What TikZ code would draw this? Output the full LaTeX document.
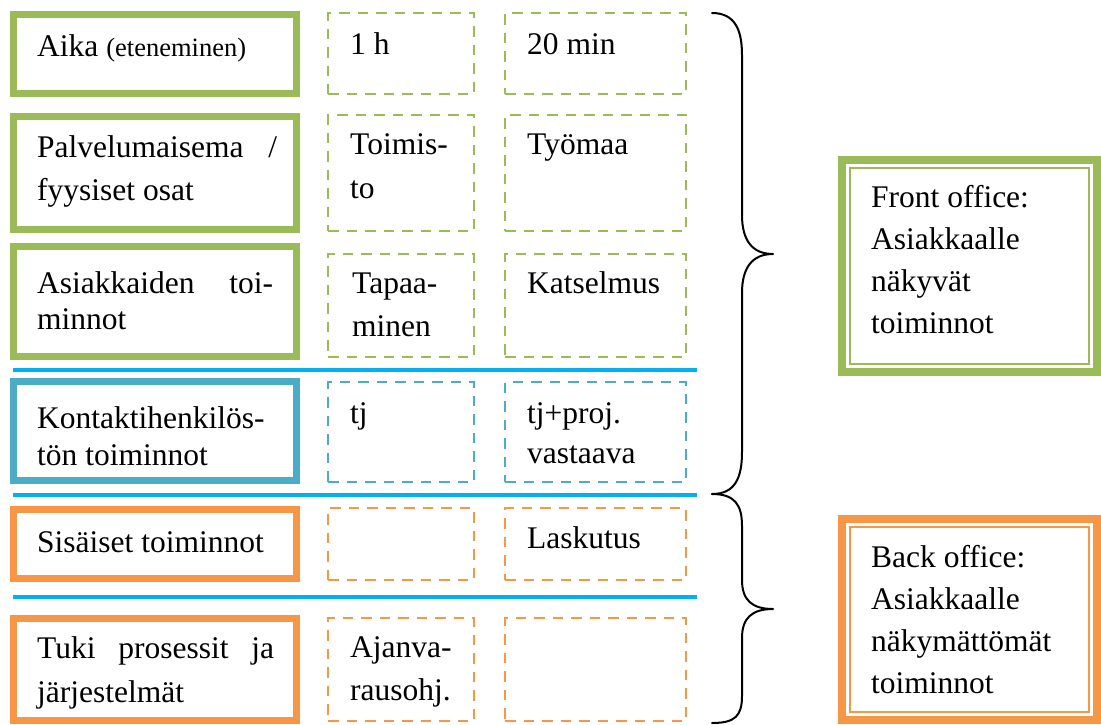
\documentclass[tikz,border=0pt]{standalone}
\usepackage{fontspec}
\setmainfont{Liberation Serif}
\definecolor{leafgreen}{HTML}{9BBB59}
\definecolor{tealblue}{HTML}{4BACC6}
\definecolor{sunorange}{HTML}{F79646}
\definecolor{ruleblue}{HTML}{00B0F0}
\newcommand{\bodyfont}{\fontsize{31.5pt}{42pt}\selectfont}
\newcommand{\smallerfont}{\fontsize{26.5pt}{34pt}\selectfont}
% two stacked lines with a given baseline distance; baseline = first line
\newcommand{\twoln}[3]{\vtop{\baselineskip=#1pt\hbox{#2}\hbox{#3}}}
\newcommand{\fourln}[4]{\vtop{\baselineskip=42pt\hbox{#1}\hbox{#2}\hbox{#3}\hbox{#4}}}

\begin{document}
\begin{tikzpicture}[x=1pt,y=-1pt,
  rowhead/.style={draw=#1, line width=7pt, minimum width=283pt, inner sep=0pt, outer sep=0pt},
  cell/.style={draw=#1, line width=2.5pt, dash pattern=on 10.5pt off 8pt, inner sep=0pt},
  txt/.style={anchor=base west, inner sep=0pt, font=\bodyfont},
  sep/.style={draw=ruleblue, line width=3.5pt},
  brace/.style={line width=2pt, line cap=round, line join=round},
  sidebox/.style={draw=#1, line width=8pt, minimum width=255pt, inner sep=0pt, outer sep=0pt},
  sideinner/.style={draw=#1, line width=2.5pt}
]
\useasboundingbox (0,0) rectangle (1101,724);

% row headers
\node[rowhead=leafgreen, minimum height=79pt]  (h1) at (155,54)    {};
\node[rowhead=leafgreen, minimum height=113pt] (h2) at (155,173)   {};
\node[rowhead=leafgreen, minimum height=110pt] (h3) at (155,301.5) {};
\node[rowhead=tealblue,  minimum height=99pt]  (h4) at (155,431)   {};
\node[rowhead=sunorange, minimum height=69pt]  (h5) at (155,544)   {};
\node[rowhead=sunorange, minimum height=102pt] (h6) at (155,669.5) {};

% dashed cells, first column
\node[cell=leafgreen, minimum width=146pt, minimum height=81pt]  (a1) at (401,53.5)  {};
\node[cell=leafgreen, minimum width=146pt, minimum height=116pt] (a2) at (401,173)   {};
\node[cell=leafgreen, minimum width=146pt, minimum height=103pt] (a3) at (401,305.5) {};
\node[cell=tealblue,  minimum width=146pt, minimum height=100pt] (a4) at (401,432)   {};
\node[cell=sunorange, minimum width=146pt, minimum height=72pt]  (a5) at (401,544)   {};
\node[cell=sunorange, minimum width=146pt, minimum height=103pt] (a6) at (401,669.5) {};

% dashed cells, second column
\node[cell=leafgreen, minimum width=181pt, minimum height=81pt]  (b1) at (595.5,53.5)  {};
\node[cell=leafgreen, minimum width=181pt, minimum height=116pt] (b2) at (595.5,173)   {};
\node[cell=leafgreen, minimum width=181pt, minimum height=103pt] (b3) at (595.5,305.5) {};
\node[cell=tealblue,  minimum width=181pt, minimum height=100pt] (b4) at (595.5,432)   {};
\node[cell=sunorange, minimum width=181pt, minimum height=72pt]  (b5) at (595.5,544)   {};
\node[cell=sunorange, minimum width=181pt, minimum height=103pt] (b6) at (595.5,669.5) {};

% separators
\draw[sep] (13,370) -- (697,370);
\draw[sep] (13,495) -- (697,495);
\draw[sep] (13,597) -- (697,597);

% header texts
\node[txt] (th1) at (37,56)  {Aika {\smallerfont (eteneminen)}};
\node[txt] (th2) at (37,157) {\twoln{43}{\makebox[240pt][s]{Palvelumaisema /}}{fyysiset osat}};
\node[txt] (th3) at (37,293) {\twoln{36}{\makebox[236pt][s]{Asiakkaiden toi-}}{minnot}};
\node[txt] (th4) at (37,428) {\twoln{37}{Kontaktihenkilös-}{tön toiminnot}};
\node[txt] (th5) at (37,552) {Sisäiset toiminnot};
\node[txt] (th6) at (37,658) {\twoln{44}{\makebox[237pt][s]{Tuki prosessit ja}}{järjestelmät}};

% cell texts
\node[txt] (ta1) at (350,54)  {1 h};
\node[txt] (tb1) at (527,54)  {20 min};
\node[txt] (ta2) at (350,154) {\twoln{44}{Toimis-}{to}};
\node[txt] (tb2) at (527,154) {Työmaa};
\node[txt] (ta3) at (352,293) {\twoln{43}{Tapaa-}{minen}};
\node[txt] (tb3) at (527,293) {Katselmus};
\node[txt] (ta4) at (350,423) {tj};
\node[txt] (tb4) at (527,423) {\twoln{40}{tj+proj.}{vastaava}};
\node[txt] (tb5) at (527,548) {Laskutus};
\node[txt] (ta6) at (350,657) {\twoln{43}{Ajanva-}{rausohj.}};

% braces
\draw[brace] (712,13) .. controls (735,13) and (742,30) .. (742,55)
  -- (742,215) .. controls (742,240) and (752,254) .. (773,254)
  .. controls (752,254) and (742,268) .. (742,293)
  -- (742,452) .. controls (742,478) and (735,494) .. (712,494);
\draw[brace] (712,494) .. controls (735,494) and (742,505) .. (742,526)
  -- (742,580) .. controls (742,600) and (752,609) .. (773,609)
  .. controls (752,609) and (742,618) .. (742,638)
  -- (742,696) .. controls (742,716) and (735,723) .. (712,723);

% side boxes: thick outer frame with a thin inner frame
\node[sidebox=leafgreen, minimum height=212pt] (front) at (969.5,266) {};
\draw[sideinner=leafgreen] ([xshift=8pt,yshift=-8pt]front.north west) rectangle ([xshift=-8pt,yshift=8pt]front.south east);
\node[txt] (tfront) at (871,207) {\fourln{Front office:}{Asiakkaalle}{näkyvät}{toiminnot}};

\node[sidebox=sunorange, minimum height=201pt] (back) at (969.5,619.5) {};
\draw[sideinner=sunorange] ([xshift=8pt,yshift=-8pt]back.north west) rectangle ([xshift=-8pt,yshift=8pt]back.south east);
\node[txt] (tback) at (871,567) {\fourln{Back office:}{Asiakkaalle}{näkymättömät}{toiminnot}};
\end{tikzpicture}
\end{document}
